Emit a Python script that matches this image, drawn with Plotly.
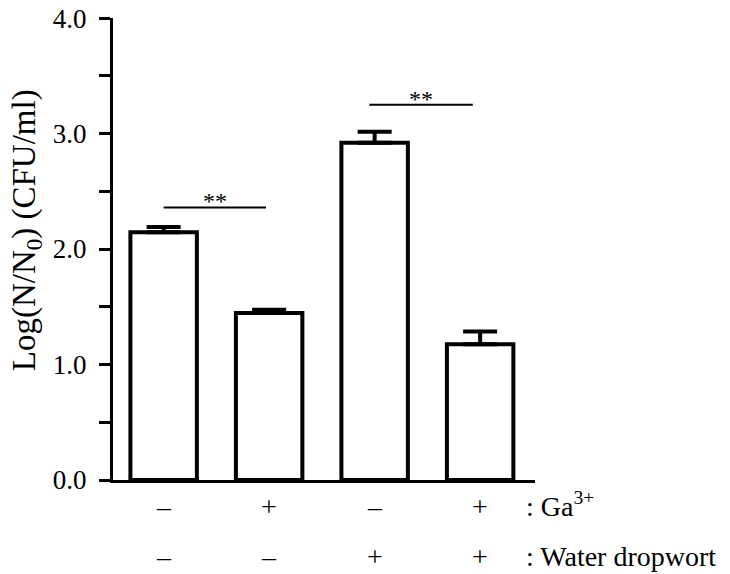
import plotly.graph_objects as go

# bar values
groups = [0, 1, 2, 3]
means = [2.145, 1.445, 2.92, 1.175]
errors = [0.045, 0.03, 0.095, 0.11]
ga_row = ['\u2013', '+', '\u2013', '+']
wd_row = ['\u2013', '\u2013', '+', '+']
sig_pairs = [(0, 0.97), (1.95, 2.93)]
sig_levels = [2.36, 3.25]
sig_text = ['**', '**']

FONT = 'Liberation Serif'

fig = go.Figure()
fig.add_trace(go.Bar(
    x=groups,
    y=means,
    width=0.63,
    marker=dict(color='white', line=dict(color='black', width=4)),
    error_y=dict(type='data', array=errors, arrayminus=[0] * len(errors),
                 symmetric=False, color='black', thickness=4, width=17),
    showlegend=False,
))

# significance brackets
for (x0, x1), lvl, txt in zip(sig_pairs, sig_levels, sig_text):
    fig.add_shape(type='line', xref='x', yref='y', x0=x0, x1=x1, y0=lvl, y1=lvl,
                  line=dict(color='black', width=2))
    fig.add_annotation(x=(x0 + x1) / 2, y=lvl, xref='x', yref='y', text=txt,
                       showarrow=False, yanchor='bottom', yshift=-9,
                       font=dict(family=FONT, size=24, color='black'))

# +/- rows under the axis
ROW1, ROW2 = -0.0963, -0.2035
for g, a, b in zip(groups, ga_row, wd_row):
    fig.add_annotation(x=g, y=ROW1, xref='x', yref='paper', text=a, showarrow=False,
                       font=dict(family=FONT, size=28, color='black'))
    fig.add_annotation(x=g, y=ROW2, xref='x', yref='paper', text=b, showarrow=False,
                       font=dict(family=FONT, size=28, color='black'))

fig.add_annotation(x=3.415, y=ROW1, xref='x', yref='paper', text=': Ga<sup>3+</sup>',
                   showarrow=False, xanchor='left',
                   font=dict(family=FONT, size=28, color='black'))
fig.add_annotation(x=3.415, y=ROW2, xref='x', yref='paper', text=': Water dropwort',
                   showarrow=False, xanchor='left',
                   font=dict(family=FONT, size=28, color='black'))

# y axis title
fig.add_annotation(x=-0.259, y=0.541, xref='paper', yref='paper',
                   text='Log(N/N<sub>0</sub>) (CFU/ml)', textangle=-90, showarrow=False,
                   font=dict(family=FONT, size=33, color='black'))

fig.update_layout(
    width=722, height=566,
    margin=dict(l=105, r=195, t=10, b=94),
    plot_bgcolor='white', paper_bgcolor='white',
    font=dict(family=FONT, color='black'),
    xaxis=dict(range=[-0.48, 3.52], showticklabels=False, ticks='', showgrid=False,
               zeroline=False, showline=True, linecolor='black', linewidth=3,
               automargin=False),
    yaxis=dict(range=[0, 4.0005], tickvals=[0, 1, 2, 3, 4], tickformat='.1f',
               ticks='outside', ticklen=11, ticklabelstandoff=7,
               ticklabeloverflow='allow',
               tickwidth=3, tickcolor='black', showgrid=False, zeroline=False,
               showline=True, linecolor='black', linewidth=3, automargin=False,
               tickfont=dict(family=FONT, size=27, color='black'),
               minor=dict(tickvals=[0.5, 1.5, 2.5, 3.5], ticks='outside', ticklen=11,
                          tickwidth=3, tickcolor='black')),
)

fig.write_html('out.html')
